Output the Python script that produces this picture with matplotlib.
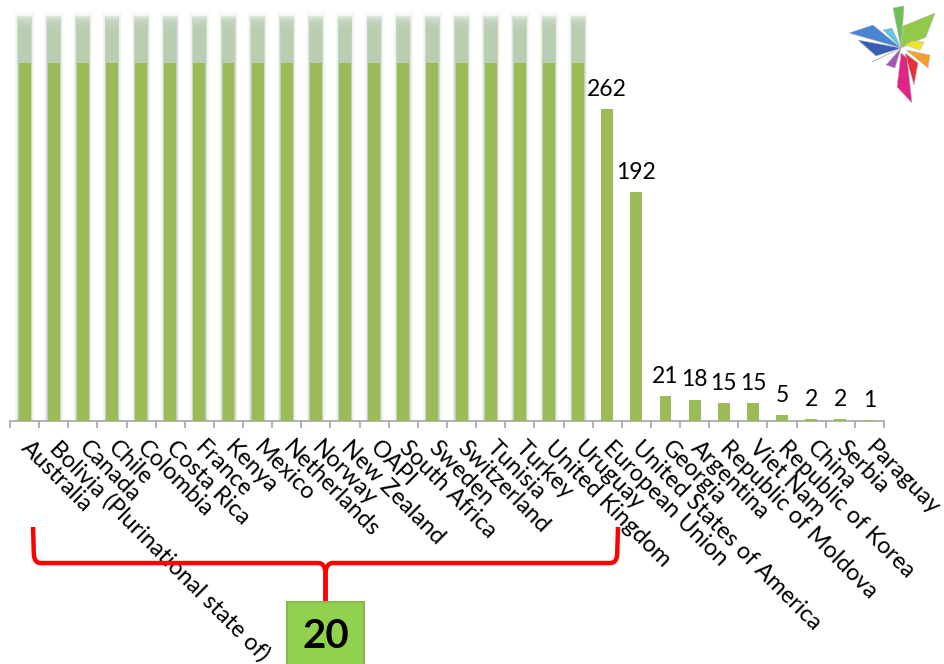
import numpy as np
import matplotlib
matplotlib.use("Agg")
import matplotlib.pyplot as plt
from matplotlib.path import Path
from matplotlib.patches import PathPatch, Polygon, Rectangle
from matplotlib.transforms import blended_transform_factory, ScaledTranslation

plt.rcParams['font.family'] = ['Lato', 'DejaVu Sans']

# ---------------- data ----------------
countries = ["Australia", "Bolivia (Plurinational state of)", "Canada", "Chile",
             "Colombia", "Costa Rica", "France", "Kenya", "Mexico", "Netherlands",
             "Norway", "New Zealand", "OAPI", "South Africa", "Sweden", "Switzerland",
             "Tunisia", "Turkey", "United Kingdom", "Uruguay",
             "European Union", "United States of America", "Georgia", "Argentina",
             "Republic of Moldova", "Viet Nam", "Republic of Korea", "China",
             "Serbia", "Paraguay"]
# first 20 members are off the scale (bars truncated with a fade)
values = [np.nan] * 20 + [262, 192, 21, 18, 15, 15, 5, 2, 2, 1]
off_scale_cap = 300      # where the truncated bars stop being solid
off_scale_fade = 336     # where the faded part ends
group_count = "20"

BAR = '#9bbb59'
FADE = '#b9cdb1'

fig = plt.figure(figsize=(9.44, 6.64), dpi=100)
fig.patch.set_facecolor('white')
W, H = 944, 664
ax = fig.add_axes([10 / W, 1 - 421 / H, 874 / W, 421 / H])
ax.set_xlim(-0.5, len(countries) - 0.5)
ax.set_ylim(0, 421 / 1.192)

x = np.arange(len(countries))
vals = np.array(values, dtype=float)
off = np.isnan(vals)
bw = 0.41

# soft halo around truncated bars
for k in range(1, 7):
    ax.bar(x[off], np.full(off.sum(), off_scale_fade + 2 * k - 4), width=bw + 0.045 * k,
           color='#c9d3c6', alpha=0.08, linewidth=0, zorder=1)
# faded part of truncated bars
for k in range(6):
    ax.bar(x[off], np.full(off.sum(), off_scale_fade - 6 + 2 * k), width=bw + 0.02 * k,
           color=FADE, alpha=0.35 if k else 1.0, linewidth=0, zorder=2)
# solid part of truncated bars
ax.bar(x[off], np.full(off.sum(), off_scale_cap), width=bw, color=BAR, linewidth=0, zorder=3)
# regular bars
ax.bar(x[~off], vals[~off], width=bw, color=BAR, linewidth=0, zorder=3)

# data labels
for xi, v in zip(x[~off], vals[~off]):
    ax.annotate(f"{int(v)}", (xi, v), xytext=(0, 9.4), textcoords='offset points',
                ha='center', va='baseline', fontsize=16.5, color='black', zorder=5)

# axes styling
for s in ['top', 'left', 'right']:
    ax.spines[s].set_visible(False)
ax.spines['bottom'].set_color('#a6a6a6')
ax.spines['bottom'].set_linewidth(1.2)
ax.set_yticks([])
ax.set_xticks(np.arange(-0.5, len(countries), 1))
ax.set_xticklabels([])
ax.tick_params(axis='x', length=5, width=1.2, color='#a6a6a6', direction='out')
ax.set_facecolor('none')

# rotated category labels
lab_tr = blended_transform_factory(ax.transData, ax.transAxes) + \
    ScaledTranslation(7 / 100, -16 / 100, fig.dpi_scale_trans)
for xi, name in zip(x, countries):
    ax.text(xi, 0, name, transform=lab_tr, rotation=-45, rotation_mode='anchor',
            ha='left', va='top', fontsize=16.8, color='black', clip_on=False)

# overlay in pixel coordinates (top-down) for annotations
ov = fig.add_axes([0, 0, 1, 1], zorder=10)
ov.set_xlim(0, W)
ov.set_ylim(H, 0)
ov.axis('off')
ov.patch.set_alpha(0)

# brace over the 20 off-scale members
br_tr = blended_transform_factory(ax.transData, ov.transData)
L, R = x[off][0] + 0.29, x[off][-1] + 1.37
M = (L + R) / 2
r = 0.25
y_tip, y_line, y_pt = 527, 563, 601
verts = [(L, y_tip), (L + 0.03, y_line - 8), (L + 0.06, y_line), (L + r, y_line),
         (M - r, y_line), (M - 0.02, y_line), (M, y_line + 10), (M, y_pt)]
codes = [Path.MOVETO, Path.LINETO, Path.CURVE3, Path.CURVE3, Path.LINETO,
         Path.CURVE3, Path.CURVE3, Path.LINETO]
verts2 = [(R, y_tip), (R - 0.03, y_line - 8), (R - 0.06, y_line), (R - r, y_line),
          (M + r, y_line), (M + 0.02, y_line), (M, y_line + 10), (M, y_pt)]
for vv in (verts, verts2):
    ov.add_patch(PathPatch(Path(vv, codes), transform=br_tr, fill=False,
                           edgecolor='#ff0000', lw=3.2, capstyle='butt', joinstyle='round',
                           clip_on=False))

# box with the count
ov.add_patch(Rectangle((M - 1.33, 602), 2.66, 80, transform=br_tr, facecolor='#92d050',
                       edgecolor='#8db64c', lw=1.5, clip_on=False))
ov.text(M, 637, group_count, transform=br_tr, ha='center', va='center',
        fontsize=29, fontweight='bold', color='black')

# decorative logo (top right)
c = (901, 48)
petals = [
    ([(849, 33), (873, 25), c], '#3f7fd0'),
    ([(858, 40), c, (876, 56)], '#2b55b0'),
    ([(883, 30), (892, 28), c], '#55c3dc'),
    ([(893, 8), (904, 6), c], '#68bb4e'),
    ([c, (903, 26), (935, 13), (926, 37)], '#8cc63f'),
    ([(905, 45), (912, 41), (924, 42), (920, 50)], '#f0e31a'),
    ([(906, 50), (930, 55), (928, 68)], '#f39a1e'),
    ([(905, 53), (918, 63), (914, 85)], '#e6262b'),
    ([(901, 53), (897, 87), (912, 103), (907, 58)], '#e0197d'),
    ([(872, 62), (884, 56), c], '#6a3fa0'),
    ([(886, 65), (895, 68), c], '#9b4fb0'),
]
for pts, col in petals:
    ov.add_patch(Polygon(pts, closed=True, facecolor=col, edgecolor='#bbbbbb',
                         lw=0.4, alpha=0.95))

fig.savefig('out.png', dpi=100, facecolor='white')
